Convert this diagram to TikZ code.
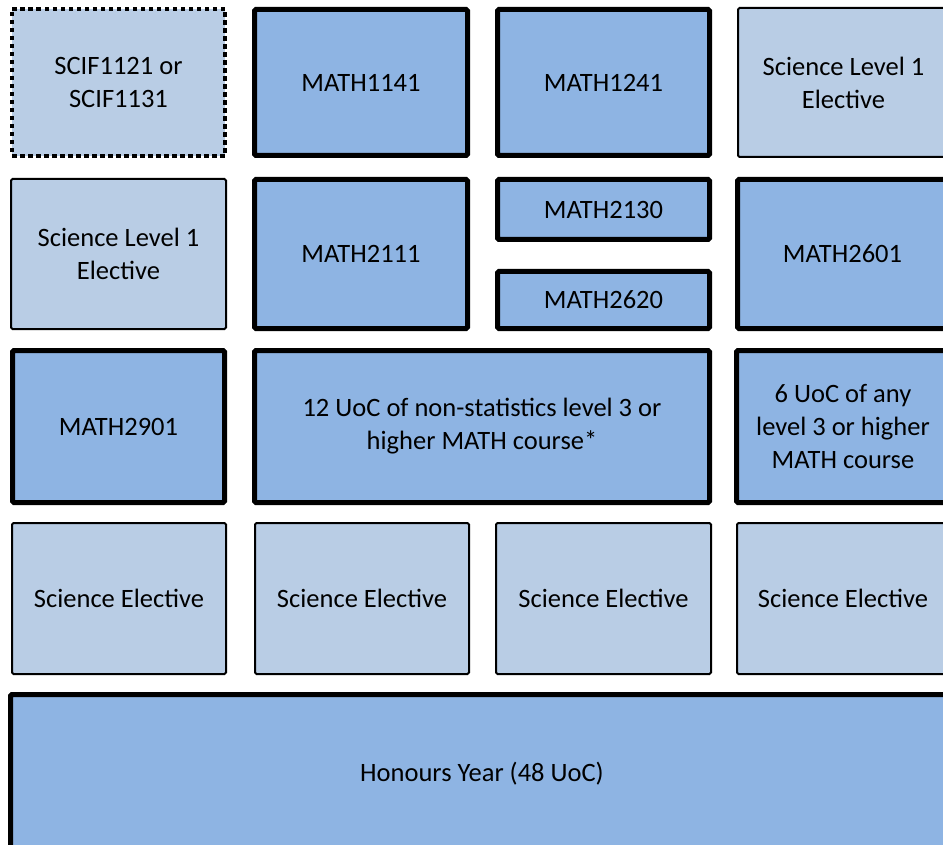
\documentclass[tikz,border=0pt]{standalone}
\usepackage{fontspec}
\setmainfont{Carlito}
\definecolor{lightfill}{HTML}{B9CDE5}
\definecolor{darkfill}{HTML}{8EB4E3}
\tikzset{
 base/.style={align=center, inner sep=2pt, font=\fontsize{26.5}{33}\selectfont, text=black, rounded corners=1.5pt},
 thinbox/.style={base, draw=black, line width=2pt, fill=lightfill},
 dotbox/.style={base, draw=black, line width=4pt, dash pattern=on 4.5pt off 3.5pt, fill=lightfill, rounded corners=0pt},
 thickbox/.style={base, draw=black, line width=5pt, fill=darkfill},
}
% #1 style, #2 name, #3 x1, #4 y1, #5 x2, #6 y2 (outer, px, y down), #7 text, #8 line width
\newcommand\mybox[8]{%
 \pgfmathsetmacro\cbW{#5-#3-#8}\pgfmathsetmacro\cbH{#6-#4-#8}%
 \pgfmathsetmacro\cbX{(#3+#5)/2}\pgfmathsetmacro\cbY{-(#4+#6)/2}%
 \node[#1, minimum width=\cbW pt, minimum height=\cbH pt] (#2) at (\cbX pt,\cbY pt) {#7};}
\begin{document}
\begin{tikzpicture}
\useasboundingbox (0,0) rectangle (943pt,-845pt);
\fill[white] (0,0) rectangle (943pt,-845pt);
\clip (0,0) rectangle (943pt,-845pt);
% Row 1
\mybox{dotbox}{scif}{10}{7}{227}{158}{SCIF1121 or\\SCIF1131}{4}
\mybox{thickbox}{m1141}{252}{7}{470}{158}{MATH1141}{5}
\mybox{thickbox}{m1241}{495}{7}{712}{158}{MATH1241}{5}
\mybox{thinbox}{slA}{737}{7}{950}{158}{Science Level 1\\Elective}{2}
% Row 2
\mybox{thinbox}{slB}{10}{178}{227}{330}{Science Level 1\\Elective}{2}
\mybox{thickbox}{m2111}{252}{177}{470}{331}{MATH2111}{5}
\mybox{thickbox}{m2130}{495}{177}{712}{242}{MATH2130}{5}
\mybox{thickbox}{m2620}{495}{269}{712}{331}{MATH2620}{5}
\mybox{thickbox}{m2601}{735}{177}{950}{331}{MATH2601}{5}
% Row 3
\mybox{thickbox}{m2901}{10}{348}{227}{505}{MATH2901}{5}
\mybox{thickbox}{uoc12}{252}{348}{712}{505}{12 UoC of non-statistics level 3 or\\higher MATH course*}{5}
\mybox{thickbox}{uoc6}{734}{348}{952}{505}{6 UoC of any\\level 3 or higher\\MATH course}{5}
% Row 4
\mybox{thinbox}{seA}{11}{522}{227}{675}{Science Elective}{2}
\mybox{thinbox}{seB}{254}{522}{470}{675}{Science Elective}{2}
\mybox{thinbox}{seC}{495}{522}{712}{675}{Science Elective}{2}
\mybox{thinbox}{seD}{736}{522}{950}{675}{Science Elective}{2}
% Row 5
\mybox{thickbox}{hons}{8}{692}{956}{855}{Honours Year (48 UoC)}{5}
\end{tikzpicture}
\end{document}
